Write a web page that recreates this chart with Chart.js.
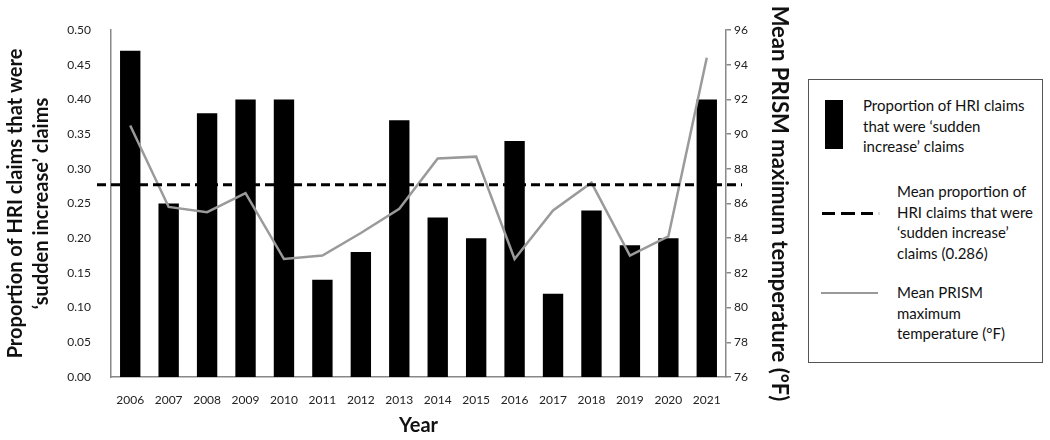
<!DOCTYPE html>
<html>
<head>
<meta charset="utf-8">
<script src="https://cdn.jsdelivr.net/npm/chart.js@4.4.0/dist/chart.umd.min.js"></script>
<style>
  html, body { margin: 0; padding: 0; background: #fff; }
  #wrap { position: relative; width: 1050px; height: 440px; }
  #c { position: absolute; left: 0; top: 0; }
  #legend { position: absolute; left: 808px; top: 79px; width: 235px; height: 284px;
    border: 1px solid #555; box-sizing: border-box; background: #fff;
    font-family: Lato, "Open Sans", sans-serif; font-size: 15px; color: #111; }
  .ltxt { position: absolute; line-height: 20.5px; white-space: nowrap; }
  .sym { position: absolute; }
</style>
</head>
<body>
<div id="wrap">
  <canvas id="c" width="1050" height="440"></canvas>
  <div id="legend"></div>
</div>
<script>
const years = ["2006","2007","2008","2009","2010","2011","2012","2013","2014","2015","2016","2017","2018","2019","2020","2021"];
const proportionSudden = [0.47,0.25,0.38,0.40,0.40,0.14,0.18,0.37,0.23,0.20,0.34,0.12,0.24,0.19,0.20,0.40];
const meanMaxTemp = [90.5,85.8,85.5,86.6,82.8,83.0,84.3,85.7,88.6,88.7,82.8,85.6,87.2,83.0,84.1,94.4];
const meanProportionLine = 0.277;
const leftTicks = { min: 0, max: 0.5, step: 0.05 };
const rightTicks = { min: 76, max: 96, step: 2 };
const leftTitle = ["Proportion of HRI claims that were", "\u2018sudden increase\u2019 claims"];
const rightTitle = "Mean PRISM maximum temperature (\u00B0F)";
const xTitle = "Year";
const legendBars = ["Proportion of HRI claims", "that were \u2018sudden", "increase\u2019 claims"];
const legendMean = ["Mean proportion of", "HRI claims that were", "\u2018sudden increase\u2019", "claims (0.286)"];
const legendTemp = ["Mean PRISM", "maximum", "temperature (\u00B0F)"];

// HTML legend
const lg = document.getElementById('legend');
function addText(lines, left, top) {
  const d = document.createElement('div');
  d.className = 'ltxt';
  d.style.left = left + 'px'; d.style.top = top + 'px';
  d.innerHTML = lines.map(s => s.replace(/&/g,'&amp;').replace(/</g,'&lt;')).join('<br>');
  lg.appendChild(d);
}
function addSym(css) {
  const d = document.createElement('div');
  d.className = 'sym';
  Object.assign(d.style, css);
  lg.appendChild(d);
}
addSym({left:'16px', top:'20px', width:'18px', height:'49px', background:'#000'});
addText(legendBars, 54, 15);
[[13,13],[32,14],[52,12]].forEach(([l,w]) => addSym({left:l+'px', top:'132px', width:w+'px', height:'3px', background:'#000'}));
addSym({left:'69px', top:'132px', width:'2px', height:'3px', background:'#ddd'});
addText(legendMean, 88, 101);
addSym({left:'12px', top:'212px', width:'57px', height:'2px', background:'#999'});
addText(legendTemp, 88, 202);

const FONT = 'Lato, "Open Sans", sans-serif';

const meanLinePlugin = {
  id: 'meanLine',
  afterDatasetsDraw(chart) {
    const y = chart.scales.y.getPixelForValue(meanProportionLine);
    const a = chart.chartArea;
    const ctx = chart.ctx;
    ctx.save();
    ctx.strokeStyle = '#000';
    ctx.lineWidth = 3;
    ctx.setLineDash([9, 5]);
    ctx.beginPath();
    ctx.moveTo(a.left - 14, y);
    ctx.lineTo(a.right + 16, y);
    ctx.stroke();
    ctx.restore();
  }
};

new Chart(document.getElementById('c'), {
  data: {
    labels: years,
    datasets: [
      {
        type: 'line',
        label: legendTemp.join(' '),
        data: meanMaxTemp,
        yAxisID: 'y1',
        borderColor: '#9a9a9a',
        borderWidth: 2.5,
        pointRadius: 0,
        tension: 0,
        order: 0
      },
      {
        type: 'bar',
        label: legendBars.join(' '),
        data: proportionSudden,
        yAxisID: 'y',
        backgroundColor: '#000',
        borderWidth: 0,
        categoryPercentage: 1.0,
        barPercentage: 0.53,
        order: 1
      }
    ]
  },
  options: {
    responsive: false,
    animation: false,
    layout: { padding: { left: 0, right: 258, top: 30, bottom: 0 } },
    plugins: { legend: { display: false }, tooltip: { enabled: false } },
    scales: {
      x: {
        grid: { display: false },
        border: { display: true, color: '#888', width: 1.5 },
        ticks: { color: '#222', font: { family: FONT, size: 12 }, padding: 8 },
        title: { display: true, text: xTitle, color: '#111', font: { family: FONT, size: 20, weight: 'bold' }, padding: { top: 6, bottom: 2 } },
        afterFit(s) { s.height = 63; }
      },
      y: {
        position: 'left',
        min: leftTicks.min, max: leftTicks.max,
        grid: { display: false },
        border: { display: true, color: '#888', width: 1.5 },
        ticks: { stepSize: leftTicks.step, color: '#222', font: { family: FONT, size: 12 }, padding: 12,
          callback: v => Number(v).toFixed(2) },
        title: { display: true, text: leftTitle, color: '#111', font: { family: FONT, size: 20, weight: 'bold', lineHeight: 1.3 }, padding: { top: 3, bottom: 0 } },
        afterFit(s) { s.width = 111; }
      },
      y1: {
        position: 'right',
        min: rightTicks.min, max: rightTicks.max,
        grid: { display: true, drawOnChartArea: false, drawTicks: true, tickLength: 5, color: '#888', lineWidth: 1.5 },
        border: { display: true, color: '#888', width: 1.5 },
        ticks: { stepSize: rightTicks.step, color: '#222', font: { family: FONT, size: 12 }, padding: 3 },
        title: { display: true, text: rightTitle, color: '#111', font: { family: FONT, size: 22, weight: 'bold', lineHeight: 1.2 }, padding: { top: 0, bottom: 0 } },
        afterFit(s) { s.width = 66; }
      }
    }
  },
  plugins: [meanLinePlugin]
});
</script>
</body>
</html>
